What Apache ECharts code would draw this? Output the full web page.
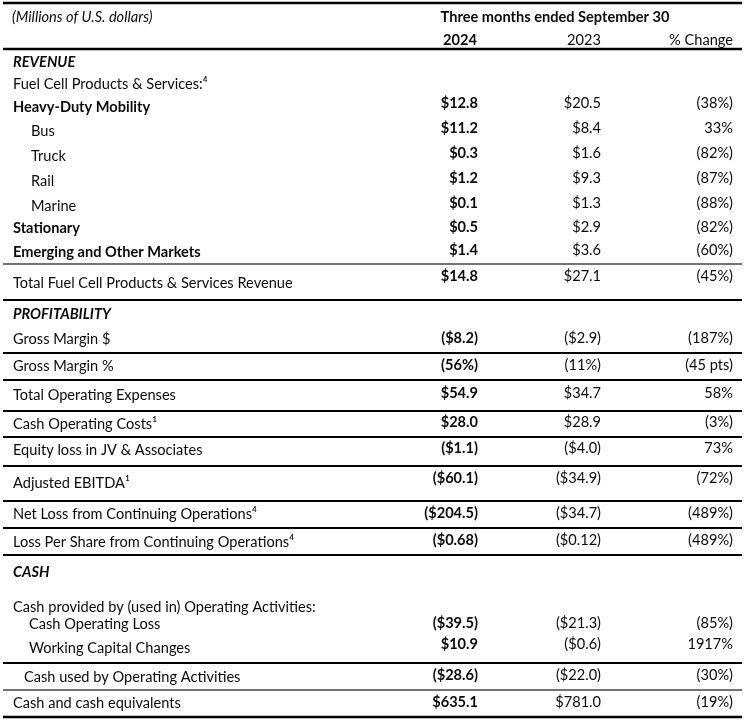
<!DOCTYPE html>
<html><head><meta charset="utf-8">
<script src="https://cdn.jsdelivr.net/npm/echarts@6/dist/echarts.min.js"></script>
<style>html,body{margin:0;padding:0;background:#fff}#c{width:750px;height:723px}</style>
</head><body><div id="c"></div>
<script>
// ---- data ----
const unitsNote = '(Millions of U.S. dollars)';
const periodTitle = 'Three months ended September 30';
const columnHeaders = ['2024', '2023', '% Change'];
const rowLabels = [
  'REVENUE', 'Fuel Cell Products & Services:\u2074', 'Heavy-Duty Mobility', 'Bus', 'Truck', 'Rail', 'Marine',
  'Stationary', 'Emerging and Other Markets', 'Total Fuel Cell Products & Services Revenue',
  'PROFITABILITY', 'Gross Margin $', 'Gross Margin %', 'Total Operating Expenses', 'Cash Operating Costs\u00b9',
  'Equity loss in JV & Associates', 'Adjusted EBITDA\u00b9', 'Net Loss from Continuing Operations\u2074',
  'Loss Per Share from Continuing Operations\u2074',
  'CASH', 'Cash provided by (used in) Operating Activities:', 'Cash Operating Loss', 'Working Capital Changes',
  'Cash used by Operating Activities', 'Cash and cash equivalents'
];
const values2024 = ['', '', '$12.8', '$11.2', '$0.3', '$1.2', '$0.1', '$0.5', '$1.4', '$14.8',
  '', '($8.2)', '(56%)', '$54.9', '$28.0', '($1.1)', '($60.1)', '($204.5)', '($0.68)',
  '', '', '($39.5)', '$10.9', '($28.6)', '$635.1'];
const values2023 = ['', '', '$20.5', '$8.4', '$1.6', '$9.3', '$1.3', '$2.9', '$3.6', '$27.1',
  '', '($2.9)', '(11%)', '$34.7', '$28.9', '($4.0)', '($34.9)', '($34.7)', '($0.12)',
  '', '', '($21.3)', '($0.6)', '($22.0)', '$781.0'];
const pctChange = ['', '', '(38%)', '33%', '(82%)', '(87%)', '(88%)', '(82%)', '(60%)', '(45%)',
  '', '(187%)', '(45 pts)', '58%', '(3%)', '73%', '(72%)', '(489%)', '(489%)',
  '', '', '(85%)', '1917%', '(30%)', '(19%)'];

// ---- layout / style (not data) ----
const labelY = [62, 84, 107, 131, 156, 181, 206, 228, 252, 283, 314, 339, 366, 395, 424, 450, 483, 514, 542, 572, 607, 624, 648, 677, 703];
const numY   = [62, 84, 103, 128, 153, 178, 203, 227, 250, 276, 314, 338, 365, 393, 422, 448, 478, 513, 540, 572, 607, 623, 644, 675, 702];
const labelX = [13, 13, 13, 31, 31, 31, 31, 13, 13, 13, 13, 13, 13, 13, 13, 13, 13, 13, 13, 13, 13, 29, 29, 24, 13];
const labelStyle = ['bi', 'n', 'b', 'n', 'n', 'n', 'n', 'b', 'b', 'n', 'bi', 'n', 'n', 'n', 'n', 'n', 'n', 'n', 'n', 'bi', 'n', 'n', 'n', 'n', 'n'];
const colRight = [478, 601, 733];
const rules = [
  {y: 3, w: 2.5, c: '#000'}, {y: 49, w: 2.5, c: '#000'}, {y: 264, w: 1.5, c: '#444'}, {y: 300, w: 2, c: '#000'},
  {y: 353, w: 2, c: '#000'}, {y: 380, w: 2, c: '#000'}, {y: 411, w: 2, c: '#000'}, {y: 437, w: 2, c: '#000'},
  {y: 466, w: 2, c: '#000'}, {y: 501, w: 2, c: '#000'}, {y: 528, w: 2, c: '#000'}, {y: 555, w: 2, c: '#000'},
  {y: 663, w: 2, c: '#000'}, {y: 690, w: 1.5, c: '#444'}, {y: 717, w: 2.5, c: '#000'}
];
const FONT = 'Lato, "Open Sans", sans-serif';
const FS = 14.6;
function font(s) {
  const w = s.indexOf('b') >= 0 ? 'bold ' : '';
  const it = s.indexOf('i') >= 0 ? 'italic ' : '';
  return it + w + FS + 'px ' + FONT;
}

// build cells
const cells = [];
cells.push({value: [12, 17], text: unitsNote, f: 'i', align: 'left'});
cells.push({value: [555, 17], text: periodTitle, f: 'b', align: 'center'});
cells.push({value: [460, 40], text: columnHeaders[0], f: 'b', align: 'center'});
cells.push({value: [584, 40], text: columnHeaders[1], f: 'n', align: 'center'});
cells.push({value: [colRight[2], 40], text: columnHeaders[2], f: 'n', align: 'right'});
rowLabels.forEach((t, i) => {
  cells.push({value: [labelX[i], labelY[i]], text: t, f: labelStyle[i], align: 'left'});
  if (values2024[i]) cells.push({value: [colRight[0], numY[i]], text: values2024[i], f: 'b', align: 'right'});
  if (values2023[i]) cells.push({value: [colRight[1], numY[i]], text: values2023[i], f: 'n', align: 'right'});
  if (pctChange[i]) cells.push({value: [colRight[2], numY[i]], text: pctChange[i], f: 'n', align: 'right'});
});
const ruleData = rules.map(r => ({value: [3, r.y, 742], w: r.w, c: r.c}));

const chart = echarts.init(document.getElementById('c'));
chart.setOption({
  animation: false,
  grid: {left: 0, right: 0, top: 0, bottom: 0},
  xAxis: {type: 'value', min: 0, max: 750, show: false},
  yAxis: {type: 'value', min: 0, max: 723, inverse: true, show: false},
  series: [
    {
      type: 'custom', data: ruleData,
      renderItem: function (params, api) {
        const d = ruleData[params.dataIndex];
        const p1 = api.coord([api.value(0), api.value(1)]);
        const p2 = api.coord([api.value(2), api.value(1)]);
        return {type: 'line', shape: {x1: p1[0], y1: p1[1], x2: p2[0], y2: p2[1]},
          style: {stroke: d.c, lineWidth: d.w}};
      }
    },
    {
      type: 'custom', data: cells,
      renderItem: function (params, api) {
        const d = cells[params.dataIndex];
        const p = api.coord([api.value(0), api.value(1)]);
        return {type: 'text', x: p[0], y: p[1],
          style: {text: d.text, font: font(d.f), fill: '#0a0a0a', textAlign: d.align, textVerticalAlign: 'middle'}};
      }
    }
  ]
});
</script></body></html>
